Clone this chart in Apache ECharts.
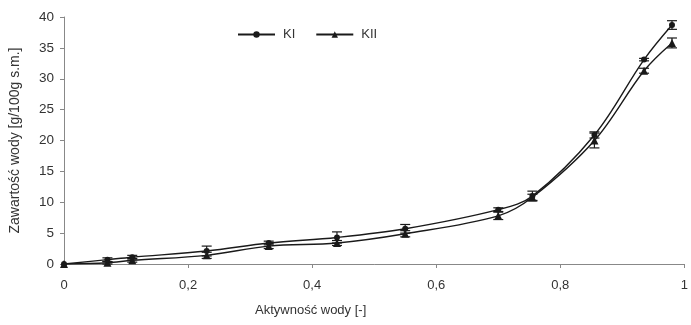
<!DOCTYPE html>
<html><head><meta charset="utf-8">
<script src="https://cdn.jsdelivr.net/npm/echarts@6/dist/echarts.min.js"></script>
<style>html,body{margin:0;padding:0;background:#fff}#c{width:691px;height:325px}</style>
</head><body><div id="c"></div>
<script>
const aw   = [0, 0.07, 0.11, 0.23, 0.33, 0.44, 0.55, 0.70, 0.755, 0.855, 0.935, 0.98];
const kI   = [0, 0.7, 1.1, 2.1, 3.4, 4.3, 5.7, 8.8, 11.0, 20.9, 33.1, 38.7];
const kII  = [0, 0.2, 0.6, 1.4, 2.9, 3.4, 4.9, 7.8, 10.8, 20.0, 31.3, 35.8];
const errI = [0, 0.3, 0.3, 0.8, 0.3, 0.9, 0.7, 0.3, 0.8, 0.5, 0.2, 0.7];
const errII= [0, 0.2, 0.3, 0.5, 0.4, 0.4, 0.5, 0.6, 0.5, 1.2, 0.4, 0.8];
const xTicks = [0, 0.2, 0.4, 0.6, 0.8, 1];
const yTicks = [0, 5, 10, 15, 20, 25, 30, 35, 40];

const font = 'Liberation Sans, Arial, sans-serif';
const txt = '#333';
const lineCol = '#1a1a1a';

function errRender(params, api) {
  const x = api.value(0), y = api.value(1), e = api.value(2);
  const top = api.coord([x, y + e]);
  const bot = api.coord([x, y - e]);
  const hw = 5;
  const st = {stroke: lineCol, lineWidth: 1.2};
  return {type: 'group', children: [
    {type: 'line', shape: {x1: top[0], y1: top[1], x2: bot[0], y2: bot[1]}, style: st},
    {type: 'line', shape: {x1: top[0]-hw, y1: top[1], x2: top[0]+hw, y2: top[1]}, style: st},
    {type: 'line', shape: {x1: bot[0]-hw, y1: bot[1], x2: bot[0]+hw, y2: bot[1]}, style: st}
  ]};
}

const chart = echarts.init(document.getElementById('c'), null, {renderer: 'canvas'});
chart.setOption({
  animation: false,
  backgroundColor: '#fff',
  textStyle: {fontFamily: font},
  grid: {left: 63, right: 2, top: 17, bottom: 61, containLabel: false},
  title: {text: 'Aktywność wody [-]', left: 250, top: 299,
    textStyle: {fontFamily: font, fontSize: 13, fontWeight: 'normal', color: txt}},
  legend: {
    data: ['KI', 'KII'], left: 237, top: 28, padding: 0, itemWidth: 37, itemHeight: 8, itemGap: 20,
    textStyle: {fontFamily: font, fontSize: 13, color: txt, padding: [0, 0, 0, 3]}
  },
  xAxis: {
    type: 'value', min: 0, max: 1, interval: 0.2,
    axisLine: {lineStyle: {color: '#888', width: 1}},
    axisTick: {show: true, length: 4, lineStyle: {color: '#888'}},
    splitLine: {show: false},
    axisLabel: {margin: 15, fontSize: 13, color: txt, fontFamily: font,
      formatter: v => (xTicks.includes(+v.toFixed(1)) ? String(+v.toFixed(1)).replace('.', ',') : '')}
  },
  yAxis: {
    type: 'value', min: 0, max: 40, interval: 5,
    name: 'Zawartość wody [g/100g s.m.]', nameLocation: 'middle', nameGap: 42,
    nameTextStyle: {fontFamily: font, fontSize: 14, color: txt},
    axisLine: {show: true, lineStyle: {color: '#888', width: 1}},
    axisTick: {show: true, length: 4, lineStyle: {color: '#888'}},
    splitLine: {show: false},
    axisLabel: {margin: 10, fontSize: 13.5, color: txt, fontFamily: font,
      formatter: v => (yTicks.includes(v) ? String(v) : '')}
  },
  series: [
    {name: 'KI', type: 'line', smooth: 0.35, data: aw.map((x, i) => [x, kI[i]]),
     symbol: 'circle', symbolSize: 6, itemStyle: {color: lineCol},
     lineStyle: {color: lineCol, width: 1.4}, z: 3},
    {name: 'KII', type: 'line', smooth: 0.35, data: aw.map((x, i) => [x, kII[i]]),
     symbol: 'triangle', symbolSize: 8, itemStyle: {color: lineCol},
     lineStyle: {color: lineCol, width: 1.4}, z: 3},
    {name: 'errI', type: 'custom', renderItem: errRender,
     data: aw.map((x, i) => [x, kI[i], errI[i]]).filter(d => d[2] > 0), z: 4},
    {name: 'errII', type: 'custom', renderItem: errRender,
     data: aw.map((x, i) => [x, kII[i], errII[i]]).filter(d => d[2] > 0), z: 4}
  ]
});
</script></body></html>
